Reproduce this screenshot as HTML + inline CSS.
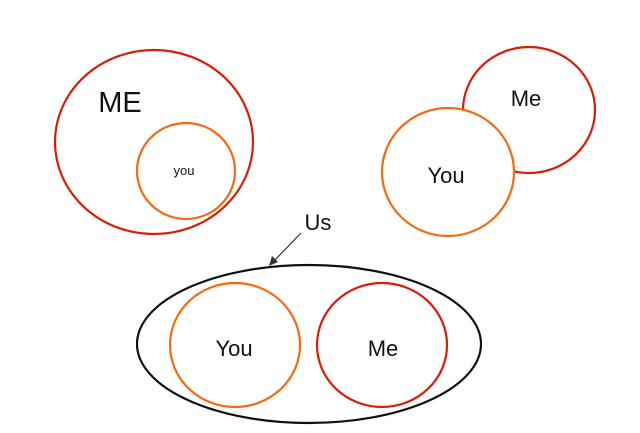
<!DOCTYPE html>
<html><head><style>body{margin:0;background:#fff}svg{display:block}</style></head>
<body>
<svg width="640" height="433" viewBox="0 0 640 433" xmlns="http://www.w3.org/2000/svg" font-family="Liberation Sans, sans-serif">
<g fill="none" stroke-width="2.2">
<ellipse cx="154" cy="142" rx="99" ry="92" stroke="#d81e06"/>
<ellipse cx="186" cy="171" rx="49" ry="48" stroke="#f26b12"/>
<ellipse cx="529" cy="110" rx="66" ry="63" stroke="#d81e06"/>
<ellipse cx="448" cy="172" rx="66" ry="64" stroke="#f26b12" fill="#fff"/>
<ellipse cx="309" cy="344" rx="172" ry="79" stroke="#111"/>
<ellipse cx="235" cy="345" rx="65" ry="62" stroke="#f26b12"/>
<ellipse cx="382" cy="345" rx="65" ry="62" stroke="#d81e06"/>
</g>
<line x1="301" y1="233" x2="274" y2="261" stroke="#333" stroke-width="1.2"/>
<polygon points="269,266 272,256 278,262" fill="#333"/>
<g fill="#111" text-anchor="middle">
<text x="120" y="112" font-size="29">ME</text>
<text x="184" y="175" font-size="13">you</text>
<text x="526" y="106" font-size="22">Me</text>
<text x="446" y="183" font-size="22">You</text>
<text x="318" y="230" font-size="22">Us</text>
<text x="234" y="356" font-size="22">You</text>
<text x="383" y="356" font-size="22">Me</text>
</g>
</svg>
</body></html>
